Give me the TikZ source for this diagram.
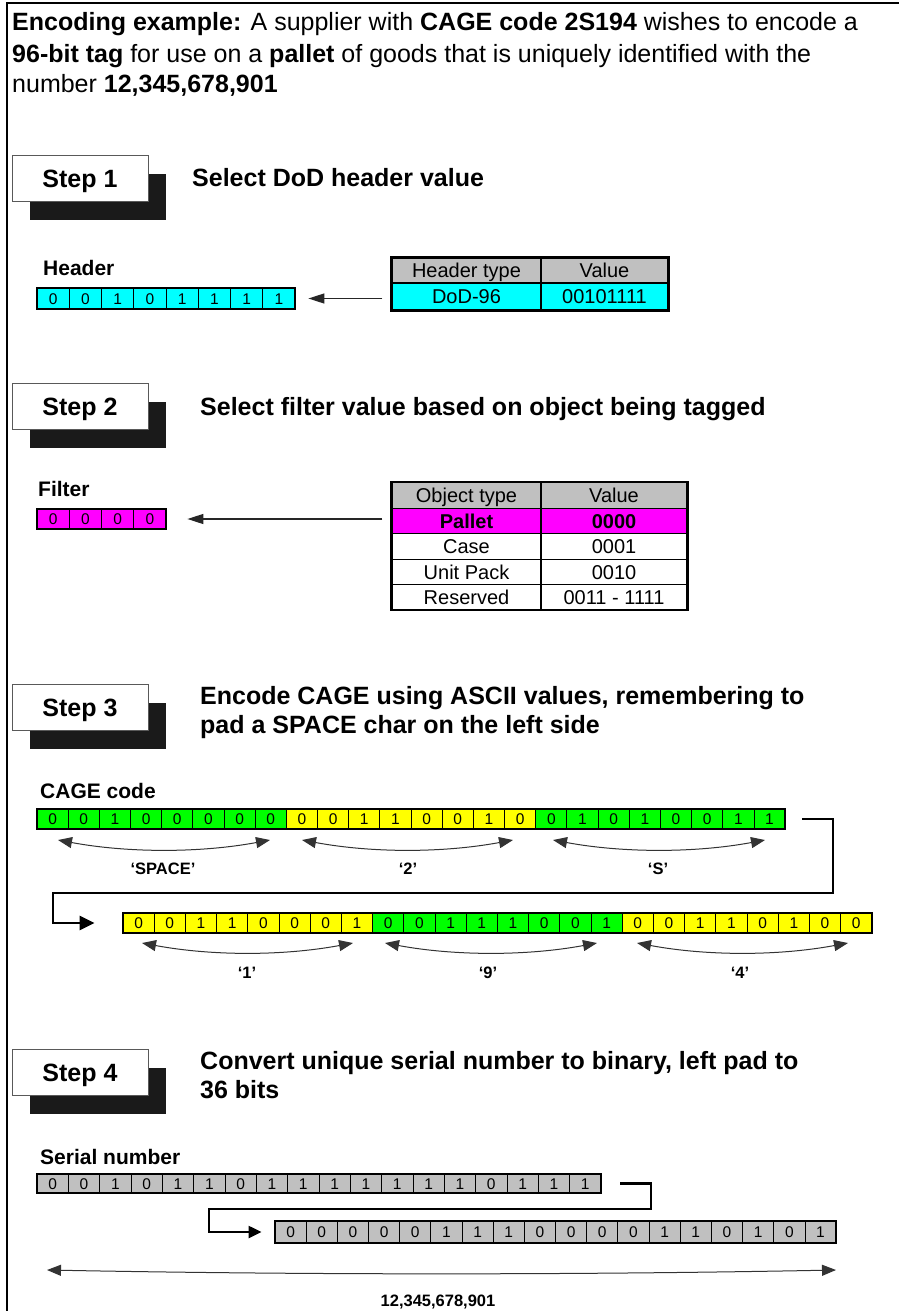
\documentclass[tikz,border=0pt]{standalone}
\usepackage{fontspec}
\setmainfont{Liberation Sans}
\usetikzlibrary{arrows.meta,shadows}
\definecolor{cy}{HTML}{00FFFF}
\definecolor{mg}{HTML}{FF00FF}
\definecolor{gr}{HTML}{00FF00}
\definecolor{ye}{HTML}{FFFF00}
\definecolor{gy}{HTML}{C0C0C0}
\definecolor{shd}{HTML}{1A1A1A}
\tikzset{
  cell/.style={draw=black, line width=0.8pt, inner sep=0pt, font=\fontsize{15.5}{15.5}\selectfont, text height=11pt, text depth=0pt},
  rowframe/.style={draw=black, line width=2pt},
  tcell/.style={draw=black, line width=1.2pt, inner sep=0pt, font=\fontsize{20}{20}\selectfont, text height=14pt, text depth=0pt},
  tframe/.style={draw=black, line width=2pt},
  stepbox/.style={draw=black!65, line width=0.6pt, fill=white, minimum width=136pt, minimum height=46pt, inner sep=0pt,
    font=\fontsize{25}{25}\selectfont\bfseries, text height=18pt, text depth=0pt,
    general shadow={fill=shd, shadow xshift=18pt, shadow yshift=-19pt}},
  title/.style={anchor=base west, inner sep=0pt, font=\fontsize{25}{25}\selectfont\bfseries},
  label/.style={anchor=base west, inner sep=0pt, font=\fontsize{21}{21}\selectfont\bfseries},
  hdr/.style={anchor=base west, inner sep=0pt, font=\fontsize{25}{25}\selectfont},
  clabel/.style={anchor=base, inner sep=0pt, font=\fontsize{16.5}{16.5}\selectfont\bfseries},
  thinarr/.style={draw=black!85, line width=1.3pt, -{Triangle[length=16pt,width=10pt]}},
  conn/.style={draw=black, line width=2.6pt, line join=miter, -{Triangle[length=15pt,width=14pt]}},
  conn4/.style={draw=black, line width=2.2pt, line join=miter, -{Triangle[length=13pt,width=12pt]}},
  curv/.style={draw=black!80, line width=1pt, {Triangle[length=14pt,width=11pt]}-{Triangle[length=14pt,width=11pt]}}
}
% #1 name, #2 x left, #3 y centre, #4 cell width, #5 cell height, #6 fill, #7 first index, #8 bits
\newcommand\bitseq[8]{%
  \foreach \b [count=\k from #7] in {#8}{%
    \node[cell, fill=#6, minimum width=#4pt, minimum height=#5pt] (#1\k) at ({#2+(\k-0.5)*#4}, #3) {\b};
  }}
\begin{document}
\begin{tikzpicture}[x=1pt, y=-1pt]
\useasboundingbox (0,0) rectangle (899,1311);
% frame
\draw[line width=2.5pt] (7,1311) -- (7,3) -- (899,3);

% heading
\node[hdr] (h1) at (12,31) {\textbf{Encoding example:} A supplier with \textbf{CAGE code 2S194} wishes to encode a};
\node[hdr] (h2) at (12,63) {\textbf{96-bit tag} for use on a \textbf{pallet} of goods that is uniquely identified with the};
\node[hdr] (h3) at (12,93) {number \textbf{12,345,678,901}};

% ---------- Step 1
\node[stepbox] (s1) at (80,178) {Step 1};
\node[title] (s1t) at (192,186) {Select DoD header value};
\node[label] (hl) at (43,275.5) {Header};
\bitseq{hd}{37}{298.5}{32.25}{21}{cy}{1}{0,0,1,0,1,1,1,1}
\draw[rowframe] (hd1.north west) rectangle (hd8.south east);
\node[tcell, fill=gy, minimum width=149pt, minimum height=25pt] (t1h1) at (466.5,270.5) {Header type};
\node[tcell, fill=gy, minimum width=127pt, minimum height=25pt] (t1h2) at (604.5,270.5) {Value};
\node[tcell, fill=cy, minimum width=149pt, minimum height=27pt] (t1d1) at (466.5,296.5) {DoD-96};
\node[tcell, fill=cy, minimum width=127pt, minimum height=27pt] (t1d2) at (604.5,296.5) {00101111};
\draw[tframe] (t1h1.north west) rectangle (t1d2.south east);
\draw[thinarr, shorten <=9pt, shorten >=13pt] (t1d1.west |- hd8.east) -- (hd8.east);

% ---------- Step 2
\node[stepbox] (s2) at (80,406) {Step 2};
\node[title] (s2t) at (200,415) {Select filter value based on object being tagged};
\node[label] (fl) at (38,496.5) {Filter};
\bitseq{fi}{37}{519}{32.25}{20}{mg}{1}{0,0,0,0}
\draw[rowframe] (fi1.north west) rectangle (fi4.south east);
\node[tcell, fill=gy, minimum width=149pt, minimum height=25.5pt] (t2h1) at (466.5,495.5) {Object type};
\node[tcell, fill=gy, minimum width=146pt, minimum height=25.5pt] (t2h2) at (614,495.5) {Value};
\node[tcell, fill=mg, minimum width=149pt, minimum height=25.5pt, font=\fontsize{20}{20}\selectfont\bfseries] (t2p1) at (466.5,521) {Pallet};
\node[tcell, fill=mg, minimum width=146pt, minimum height=25.5pt, font=\fontsize{20}{20}\selectfont\bfseries] (t2p2) at (614,521) {0000};
\node[tcell, fill=white, minimum width=149pt, minimum height=25.5pt] (t2c1) at (466.5,546.5) {Case};
\node[tcell, fill=white, minimum width=146pt, minimum height=25.5pt] (t2c2) at (614,546.5) {0001};
\node[tcell, fill=white, minimum width=149pt, minimum height=25.5pt] (t2u1) at (466.5,572) {Unit Pack};
\node[tcell, fill=white, minimum width=146pt, minimum height=25.5pt] (t2u2) at (614,572) {0010};
\node[tcell, fill=white, minimum width=149pt, minimum height=25pt] (t2r1) at (466.5,597) {Reserved};
\node[tcell, fill=white, minimum width=146pt, minimum height=25pt] (t2r2) at (614,597) {0011 - 1111};
\draw[tframe] (t2h1.north west) rectangle (t2r2.south east);
\draw[thinarr, shorten <=9pt, shorten >=21pt] (t2p1.west |- fi4.east) -- (fi4.east);

% ---------- Step 3
\node[stepbox] (s3) at (80,707) {Step 3};
\node[title] (s3t) at (200,704) {Encode CAGE using ASCII values, remembering to};
\node[title] (s3u) at (200,733) {pad a SPACE char on the left side};
\node[label] (cl) at (40,798.5) {CAGE code};
\bitseq{ca}{37}{819}{31.17}{20}{gr}{1}{0,0,1,0,0,0,0,0}
\bitseq{ca}{37}{819}{31.17}{20}{ye}{9}{0,0,1,1,0,0,1,0}
\bitseq{ca}{37}{819}{31.17}{20}{gr}{17}{0,1,0,1,0,0,1,1}
\draw[rowframe] (ca1.north west) rectangle (ca24.south east);
\bitseq{cb}{123}{923}{31.2}{20}{ye}{1}{0,0,1,1,0,0,0,1}
\bitseq{cb}{123}{923}{31.2}{20}{gr}{9}{0,0,1,1,1,0,0,1}
\bitseq{cb}{123}{923}{31.2}{20}{ye}{17}{0,0,1,1,0,1,0,0}
\draw[rowframe] (cb1.north west) rectangle (cb24.south east);
\coordinate (k1) at (833,893);
\coordinate (k2) at (53,893);
\draw[conn, shorten <=17pt, shorten >=28pt] (ca24.east) -| (k1) -- (k2) |- (cb1.west);
% brackets row 1
\coordinate (a1l) at (58,840);  \coordinate (a1r) at (270,840);
\coordinate (a2l) at (302,840); \coordinate (a2r) at (513,840);
\coordinate (a3l) at (553,840); \coordinate (a3r) at (765,840);
\draw[curv] (a1l) .. controls +(70,13) and +(-70,13) .. (a1r);
\draw[curv] (a2l) .. controls +(70,13) and +(-70,13) .. (a2r);
\draw[curv] (a3l) .. controls +(70,13) and +(-70,13) .. (a3r);
\node[clabel] (l1) at (163,874) {‘SPACE’};
\node[clabel] (l2) at (408,874) {‘2’};
\node[clabel] (l3) at (658,874) {‘S’};
% brackets row 2
\coordinate (b1l) at (142,943); \coordinate (b1r) at (353,943);
\coordinate (b2l) at (385,943); \coordinate (b2r) at (597,943);
\coordinate (b3l) at (637,943); \coordinate (b3r) at (848,943);
\draw[curv] (b1l) .. controls +(70,13) and +(-70,13) .. (b1r);
\draw[curv] (b2l) .. controls +(70,13) and +(-70,13) .. (b2r);
\draw[curv] (b3l) .. controls +(70,13) and +(-70,13) .. (b3r);
\node[clabel] (l4) at (247,978) {‘1’};
\node[clabel] (l5) at (488,978) {‘9’};
\node[clabel] (l6) at (740,978) {‘4’};

% ---------- Step 4
\node[stepbox] (s4) at (80,1072) {Step 4};
\node[title] (s4t) at (200,1069) {Convert unique serial number to binary, left pad to};
\node[title] (s4u) at (200,1098) {36 bits};
\node[label] (sl) at (40,1164.5) {Serial number};
\bitseq{sa}{37}{1183.5}{31.33}{19}{gy}{1}{0,0,1,0,1,1,0,1,1,1,1,1,1,1,0,1,1,1}
\draw[rowframe] (sa1.north west) rectangle (sa18.south east);
\bitseq{sb}{275}{1232}{31.17}{21}{gy}{1}{0,0,0,0,0,1,1,1,0,0,0,0,1,1,0,1,0,1}
\draw[rowframe] (sb1.north west) rectangle (sb18.south east);
\coordinate (m1) at (651,1209);
\coordinate (m2) at (209,1209);
\draw[conn4, shorten <=19pt, shorten >=13pt] (sa18.east) -| (m1) -- (m2) |- (sb1.west);
\coordinate (d1) at (47,1270); \coordinate (d2) at (836,1270);
\draw[curv] (d1) .. controls +(260,5) and +(-260,5) .. (d2);
\node[clabel] (l7) at (438,1306) {12,345,678,901};
\end{tikzpicture}
\end{document}
